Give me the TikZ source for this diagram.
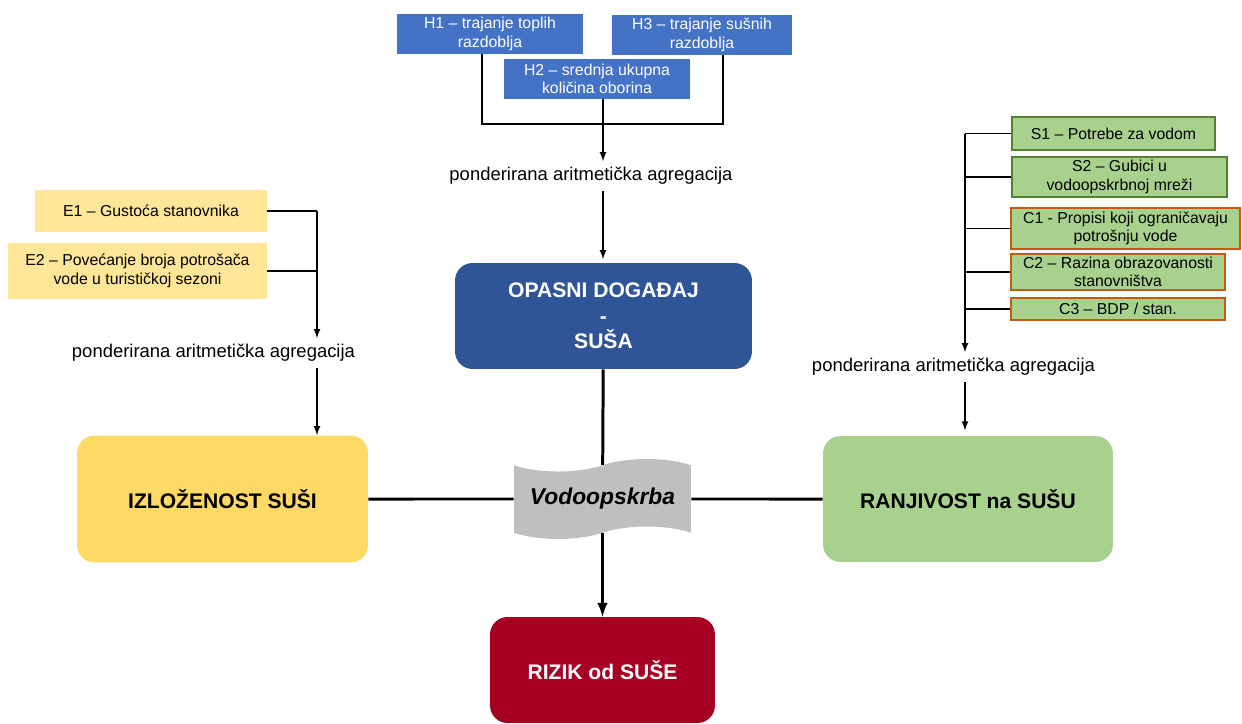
\documentclass[tikz,border=0pt]{standalone}
\usepackage{fontspec}
\setmainfont{Liberation Sans}
\usetikzlibrary{shapes.symbols}

\definecolor{hblue}{HTML}{4472C4}
\definecolor{hazblue}{HTML}{2F5597}
\definecolor{eyellow}{HTML}{FFE699}
\definecolor{expyellow}{HTML}{FFD966}
\definecolor{vgreen}{HTML}{A9D18E}
\definecolor{sborder}{HTML}{548235}
\definecolor{cborder}{HTML}{C55A11}
\definecolor{riskred}{HTML}{A50021}
\definecolor{tapegray}{HTML}{BFBFBF}

\tikzset{
  hbox/.style={fill=hblue, text=white, align=center, inner sep=1pt, font=\fontsize{9}{10.5}\selectfont},
  ebox/.style={fill=eyellow, align=center, inner sep=1pt, font=\fontsize{9}{10.5}\selectfont},
  sbox/.style={fill=vgreen, draw=sborder, line width=0.8pt, align=center, inner sep=1pt, font=\fontsize{9}{10.5}\selectfont},
  cbox/.style={sbox, draw=cborder},
  mainbox/.style={rounded corners=0.35cm, align=center, font=\fontsize{12}{14.5}\bfseries\selectfont},
  agr/.style={font=\fontsize{10.5}{12}\selectfont},
  link/.style={line width=0.8pt},
  strong/.style={line width=1.7pt}
}

\begin{document}
\begin{tikzpicture}[x=0.02cm, y=-0.02cm, >=latex]
\useasboundingbox (0,0) rectangle (1242,724);

 % hazard
 \node[hbox, minimum width=3.72cm, minimum height=0.8cm] (H1) at (490,34) {H1 – trajanje toplih\\razdoblja};
 \node[hbox, minimum width=3.60cm, minimum height=0.8cm] (H3) at (702,35) {H3 – trajanje sušnih\\razdoblja};
 \node[hbox, minimum width=3.72cm, minimum height=0.8cm] (H2) at (597,79) {H2 – srednja ukupna\\količina oborina};
 \coordinate (Hj) at (603,124);
 \node[agr] (agrH) at (591,176) {ponderirana aritmetička agregacija};
 \node[mainbox, fill=hazblue, text=white, minimum width=5.94cm, minimum height=2.12cm] (opasni) at (603.5,316) {OPASNI DOGAĐAJ\\-\\SUŠA};

 \draw[link] ([xshift=-0.16cm]H1.south) |- (Hj) -| ([xshift=0.42cm]H3.south);
 \draw[link] (H2.south -| Hj) -- (Hj);
 \draw[link,->] (Hj) -- (Hj |- agrH.north);
 \draw[link,->,shorten >=2pt] (Hj |- agrH.south) -- (Hj |- opasni.north);

 % exposure
 \node[ebox, minimum width=4.64cm, minimum height=0.84cm] (E1) at (151,211) {E1 – Gustoća stanovnika};
 \node[ebox, minimum width=5.18cm, minimum height=1.12cm] (E2) at (137.5,271) {E2 – Povećanje broja potrošača\\vode u turističkoj sezoni};
 \coordinate (Ej) at (317,211);
 \node[agr] (agrE) at (213.5,353) {ponderirana aritmetička agregacija};
 \node[mainbox, fill=expyellow, minimum width=5.82cm, minimum height=2.54cm] (izlozenost) at (222.5,499) {IZLOŽENOST SUŠI};

 \draw[link] (E1) -- (Ej);
 \draw[link] (E2.east) -- (E2.east -| Ej);
 \draw[link,->] (Ej) -- (Ej |- agrE.north);
 \draw[link,->] (Ej |- agrE.south) -- (Ej |- izlozenost.north);

 % vulnerability
 \node[sbox, minimum width=4.06cm, minimum height=0.66cm] (S1) at (1113.5,133.5) {S1 – Potrebe za vodom};
 \node[sbox, minimum width=4.30cm, minimum height=0.80cm] (S2) at (1119.5,177) {S2 – Gubici u\\vodoopskrbnoj mreži};
 \node[cbox, minimum width=4.58cm, minimum height=0.82cm] (C1) at (1125.5,228.5) {C1 - Propisi koji ograničavaju\\potrošnju vode};
 \node[cbox, minimum width=4.28cm, minimum height=0.72cm] (C2) at (1118,272) {C2 – Razina obrazovanosti\\stanovništva};
 \node[cbox, minimum width=4.28cm, minimum height=0.44cm] (C3) at (1118,309) {C3 – BDP / stan.};
 \coordinate (Vj) at (965,133.5);
 \node[agr] (agrV) at (953.5,367) {ponderirana aritmetička agregacija};
 \node[mainbox, fill=vgreen, minimum width=5.80cm, minimum height=2.52cm] (ranjivost) at (968,499) {RANJIVOST na SUŠU};

 \draw[link] (S1.west) -- (Vj);
 \draw[link] (S2.west) -- (S2.west -| Vj);
 \draw[link] (C1.west) -- (C1.west -| Vj);
 \draw[link] (C2.west) -- (C2.west -| Vj);
 \draw[link] (C3.west) -- (C3.west -| Vj);
 \draw[link,->] (Vj) -- (Vj |- agrV.north);
 \draw[link,->,shorten >=3pt] (Vj |- agrV.south) -- (Vj |- ranjivost.north);

 % risk
 \node[tape, fill=tapegray, tape bend height=0.25cm, minimum width=3.54cm, minimum height=1.6cm, inner sep=0pt,
   font=\fontsize{13}{15}\bfseries\itshape\selectfont] (vodo) at (602.5,499) {Vodoopskrba};
 \node[mainbox, fill=riskred, text=white, minimum width=4.50cm, minimum height=2.12cm] (rizik) at (602.5,670) {RIZIK od SUŠE};

 \draw[strong] (opasni) -- (vodo);
 \draw[strong] (izlozenost) -- (vodo);
 \draw[strong] (ranjivost) -- (vodo);
 \draw[strong,->] (vodo) -- (rizik);
\end{tikzpicture}
\end{document}
